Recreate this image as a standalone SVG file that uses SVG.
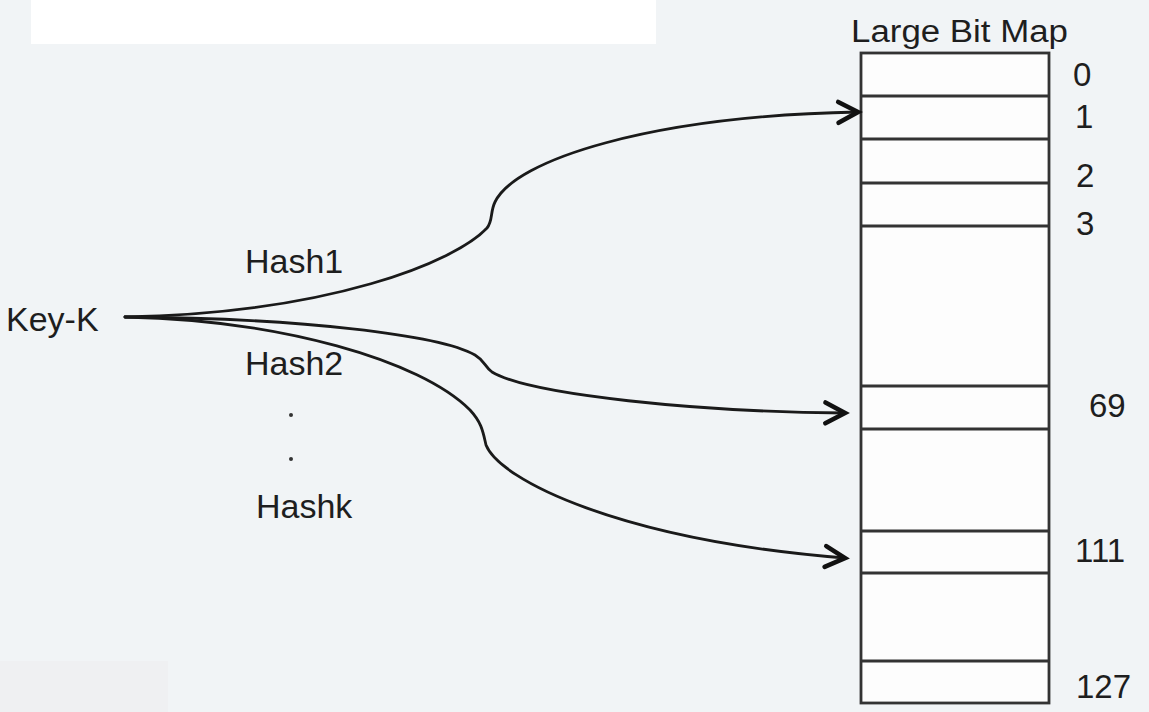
<svg xmlns="http://www.w3.org/2000/svg" width="1149" height="712" viewBox="0 0 1149 712">
<style>
.t{font-family:"Liberation Sans",Arial,sans-serif;fill:#1e1e1e}
.lbl{font-size:34px}
.num{font-size:33px}
.edge{fill:none;stroke:#1a1a1a;stroke-width:2.8;stroke-linecap:round}
.cell{stroke:#333;stroke-width:2.8}
</style>
<defs>
<marker id="open" markerUnits="userSpaceOnUse" markerWidth="30" markerHeight="30" viewBox="-22 -12 26 24" refX="0" refY="0" orient="auto">
<path d="M-17,-9 L0,0 L-17,9" fill="none" stroke="#111" stroke-width="4" stroke-linecap="round" stroke-linejoin="miter"/>
</marker>
</defs>
<rect x="0" y="0" width="1149" height="712" fill="#f1f4f6"/>
<rect x="31" y="0" width="625" height="44" fill="#ffffff"/>
<rect x="0" y="661" width="168" height="51" fill="#eff0f2"/>

<g id="key">
<text class="t lbl" x="6" y="331">Key-K</text>
</g>

<g id="bitmap">
<text class="t" x="851" y="42" font-size="31" textLength="217" lengthAdjust="spacingAndGlyphs">Large Bit Map</text>
<rect x="861" y="53" width="188" height="650" fill="#fdfdfd" stroke="#333" stroke-width="2.8"/>
<line class="cell" x1="861" y1="96" x2="1049" y2="96"/>
<line class="cell" x1="861" y1="139" x2="1049" y2="139"/>
<line class="cell" x1="861" y1="183" x2="1049" y2="183"/>
<line class="cell" x1="861" y1="226" x2="1049" y2="226"/>
<line class="cell" x1="861" y1="386" x2="1049" y2="386"/>
<line class="cell" x1="861" y1="429" x2="1049" y2="429"/>
<line class="cell" x1="861" y1="531" x2="1049" y2="531"/>
<line class="cell" x1="861" y1="573" x2="1049" y2="573"/>
<line class="cell" x1="861" y1="661" x2="1049" y2="661"/>
<text class="t num" x="1073" y="86">0</text>
<text class="t num" x="1075" y="128">1</text>
<text class="t num" x="1076" y="187">2</text>
<text class="t num" x="1076" y="235">3</text>
<text class="t num" x="1089" y="417">69</text>
<text class="t num" x="1075" y="562">111</text>
<text class="t num" x="1076" y="698">127</text>
</g>

<g id="labels">
<text class="t lbl" x="245" y="273">Hash1</text>
<text class="t lbl" x="245" y="375">Hash2</text>
<circle cx="291" cy="415" r="2" fill="#333"/>
<circle cx="291" cy="459" r="2" fill="#333"/>
<text class="t lbl" x="256" y="518">Hashk</text>
</g>

<g id="connectors">
<path class="edge" marker-end="url(#open)" d="M125,317 C330,313 455,262 487,228 C493,221 490,212 495,202 C515,160 650,116 858,112"/>
<path class="edge" marker-end="url(#open)" d="M125,317 C300,318 440,335 475,355 C485,361 484,366 492,372 C530,395 700,412 845,413"/>
<path class="edge" marker-end="url(#open)" d="M125,317 C280,320 420,360 470,410 C482,423 483,432 486,445 C500,480 620,540 845,558"/>
</g>
</svg>
